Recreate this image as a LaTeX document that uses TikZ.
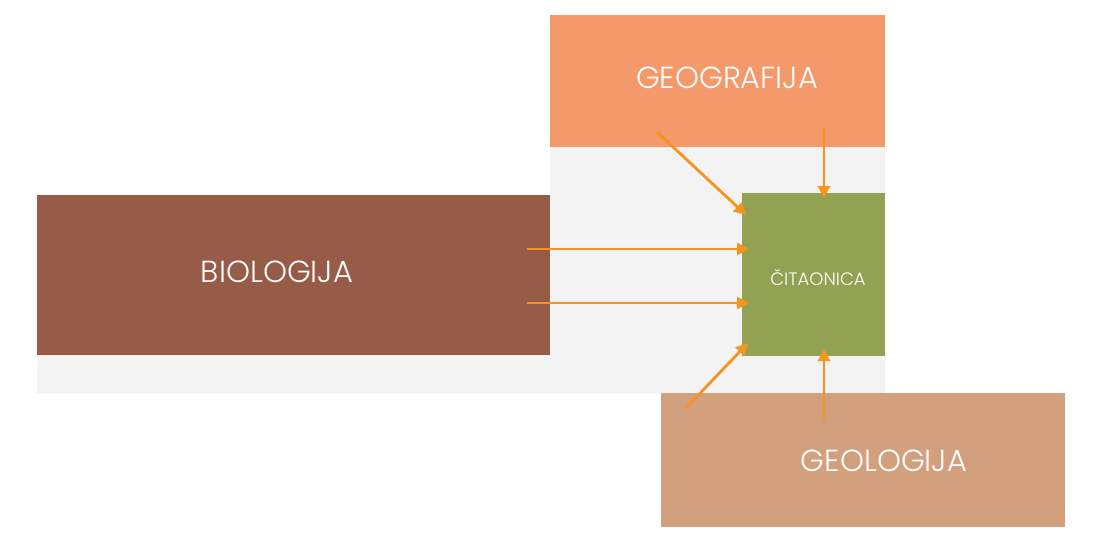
\documentclass[tikz,border=0pt]{standalone}
\usepackage{fontspec}
\setmainfont{Poppins}[UprightFont=* Light]
\usetikzlibrary{arrows.meta}
\definecolor{geogc}{HTML}{F4996A}
\definecolor{bioc}{HTML}{975C48}
\definecolor{citc}{HTML}{93A152}
\definecolor{geolc}{HTML}{D2A07C}
\definecolor{grayc}{HTML}{F3F3F3}
\definecolor{arrc}{HTML}{F7941D}
\tikzset{
  box/.style={draw=none, inner sep=0pt, outer sep=0pt},
  biglabel/.style={text=white, inner sep=0pt, font=\fontsize{30.5}{33}\selectfont},
  smalllabel/.style={text=white, inner sep=0pt, font=\fontsize{18}{20}\selectfont},
  conn/.style={draw=arrc, line width=2.8pt, -{Triangle[length=12pt,width=12pt]}}
}
\begin{document}
\begin{tikzpicture}[x=1pt,y=-1pt]
\useasboundingbox[fill=white] (0,0) rectangle (1101,535);
% gray backdrop
\fill[grayc] (37,195) -- (550,195) -- (550,147) -- (885,147) -- (885,393) -- (37,393) -- cycle;
% boxes
\node[box, fill=geogc, minimum width=335pt, minimum height=132pt] (geo) at (717.5,81) {};
\node[biglabel] (geot) at (727,78) {GEOGRAFIJA};
\node[box, fill=bioc, minimum width=513pt, minimum height=160pt] (bio) at (293.5,275) {};
\node[biglabel] (biot) at (277,272) {BIOLOGIJA};
\node[box, fill=citc, minimum width=143pt, minimum height=163pt] (cit) at (813.5,274.5) {};
\node[smalllabel] (citt) at (818,278) {ČITAONICA};
\node[box, fill=geolc, minimum width=404pt, minimum height=134pt] (geol) at (863,460) {};
\node[biglabel] (geolt) at (884,461) {GEOLOGIJA};
% connector endpoints
\coordinate (g1) at (657,132);
\coordinate (g1e) at (746,215);
\coordinate (g2) at (824,127);
\coordinate (g2e) at (824,198);
\coordinate (b1) at (527,249);
\coordinate (b1e) at (749,249);
\coordinate (b2) at (527,303);
\coordinate (b2e) at (749,303);
\coordinate (l1) at (686,408);
\coordinate (l1e) at (748,343);
\coordinate (l2) at (824,421);
\coordinate (l2e) at (824,349);
\draw[conn] (g1) -- (g1e);
\draw[conn] (g2) -- (g2e);
\draw[conn] (b1) -- (b1e);
\draw[conn] (b2) -- (b2e);
\draw[conn] (l1) -- (l1e);
\draw[conn] (l2) -- (l2e);
\end{tikzpicture}
\end{document}
